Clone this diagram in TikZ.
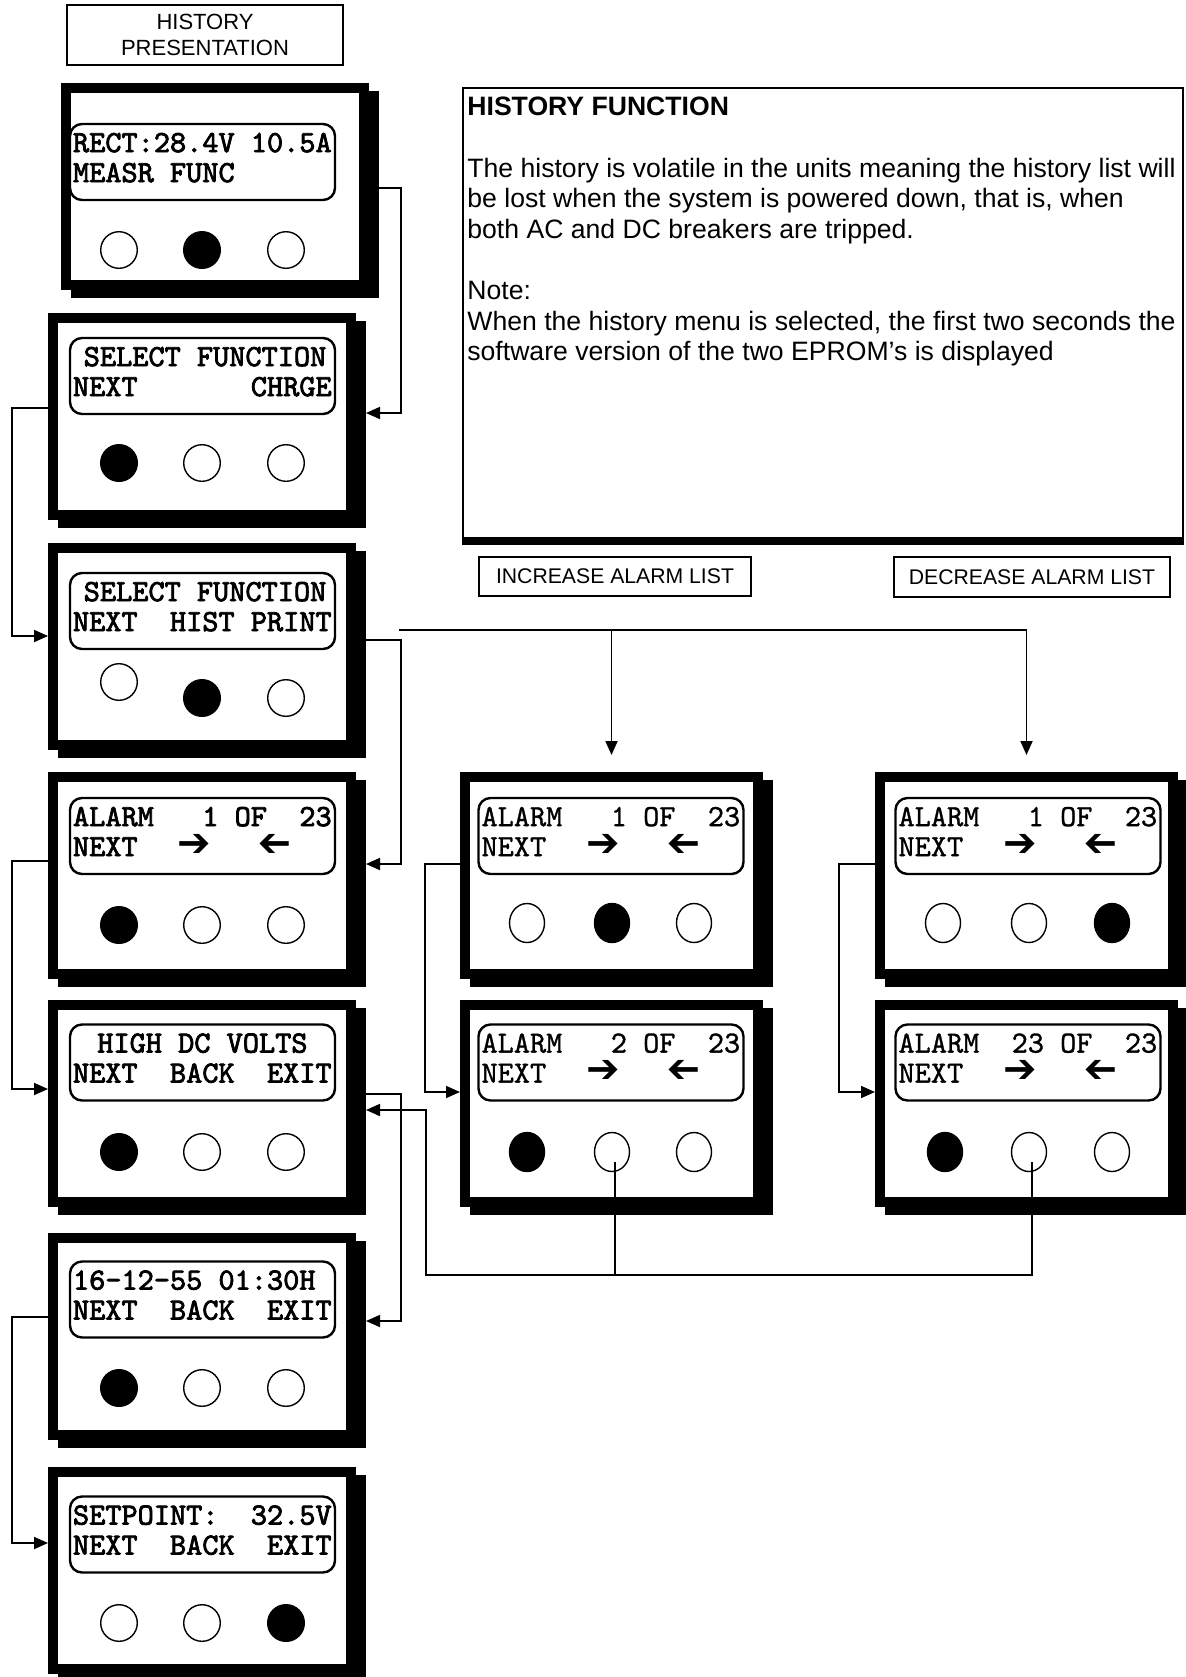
\documentclass[tikz,border=0pt]{standalone}
\usepackage{fontspec}
\setmainfont{Liberation Sans}
\newfontfamily\arrowfont{DejaVu Sans}
\newfontfamily\lcdbold{lmmono10-regular.otf}[FakeBold=2.5]
\newfontfamily\lcdmedium{lmmono10-regular.otf}[FakeBold=1]
\usetikzlibrary{arrows.meta,shapes.geometric}
\newcommand\lcdfont{\lcdbold\fontsize{15.4}{15}\selectfont
  \fontdimen2\font=0.525em\fontdimen3\font=0pt\fontdimen4\font=0pt}
\newcommand\lcdthinfont{\lcdmedium\fontsize{15.4}{15}\selectfont
  \fontdimen2\font=0.525em\fontdimen3\font=0pt\fontdimen4\font=0pt}
\newcommand\toR{\makebox[0.525em]{\arrowfont\fontsize{20}{20}\selectfont ➔}}
\newcommand\toL{\makebox[0.525em]{\reflectbox{\arrowfont\fontsize{20}{20}\selectfont ➔}}}

\begin{document}
\begin{tikzpicture}[x=0.5pt, y=-0.5pt,
  panel/.style={draw, line width=5pt, fill=white, minimum width=149pt,
    minimum height=98.5pt, inner sep=0pt,
    preaction={draw=black, fill=black, line width=5pt,
      transform canvas={shift={(5pt,-4pt)}}}},
  slim/.style={minimum width=146.5pt},
  lcd/.style={draw, line width=1.2pt, rounded corners=6pt, fill=white,
    text width=129.5pt, minimum height=38pt, inner sep=1.5pt, align=flush left,
    text depth=19.5pt, font=\lcdfont},
  lcdthin/.style={lcd, font=\lcdthinfont},
  btn/.style={circle, draw, line width=0.7pt, fill=white,
    minimum size=18.3pt, inner sep=0pt},
  oval/.style={ellipse, draw, line width=0.7pt, fill=white,
    minimum width=17.5pt, minimum height=19.5pt, inner sep=0pt},
  pushed/.style={fill=black},
  tag/.style={draw, line width=1pt, align=center, inner sep=0pt,
    font=\fontsize{10.6}{13}\selectfont},
  link/.style={line width=0.9pt, -{Triangle[length=7pt,width=6pt]}},
  inR/.style={shorten >=5pt}]
\useasboundingbox (0,0) rectangle (1186,1677);

\node[tag, minimum width=138pt, minimum height=30pt,
  font=\fontsize{11}{13}\selectfont] (title) at (205,35) {HISTORY\\PRESENTATION};

\node[panel] (p1) at (215,186.5) {};
\node[panel] (p2) at (202,416.5) {};
\node[panel] (p3) at (202,646.5) {};
\node[panel] (p4) at (202,875.5) {};
\node[panel] (p5) at (202,1103.5) {};
\node[panel] (p6) at (202,1336.5) {};
\node[panel] (p7) at (202,1570.5) {};
\node[panel, slim] (m1) at (611.5,875.5) {};
\node[panel, slim] (m2) at (611.5,1103.5) {};
\node[panel, slim] (r1) at (1026.5,875.5) {};
\node[panel, slim] (r2) at (1026.5,1103.5) {};

\node[lcd] (l1) at (202.5,162) {RECT:28.4V~10.5A\\MEASR~FUNC};
\node[lcd] (l2) at (202.5,376) {\hspace*{0.35em}SELECT~FUNCTION\\NEXT~~~~~~~CHRGE};
\node[lcd] (l3) at (202.5,611) {\hspace*{0.35em}SELECT~FUNCTION\\NEXT~~HIST~PRINT};
\node[lcd] (l4) at (202.5,836) {ALARM~~~1~OF~~23\\NEXT~~~\toR~~~~\toL};
\node[lcd] (l5) at (202.5,1062.5) {\hspace*{0.79em}HIGH~DC~VOLTS\\NEXT~~BACK~~EXIT};
\node[lcd] (l6) at (202.5,1299.5) {16-12-55~01:30H\\NEXT~~BACK~~EXIT};
\node[lcd] (l7) at (202.5,1534.5) {SETPOINT:~~32.5V\\NEXT~~BACK~~EXIT};
\node[lcdthin] (lm1) at (611,836) {ALARM~~~1~OF~~23\\NEXT~~~\toR~~~~\toL};
\node[lcdthin] (lm2) at (611,1062.5) {ALARM~~~2~OF~~23\\NEXT~~~\toR~~~~\toL};
\node[lcdthin] (lr1) at (1028,836) {ALARM~~~1~OF~~23\\NEXT~~~\toR~~~~\toL};
\node[lcdthin] (lr2) at (1028,1062.5) {ALARM~~23~OF~~23\\NEXT~~~\toR~~~~\toL};

\node[btn] (p1b1) at (119,250) {};
\node[btn, pushed] (p1b2) at (202,250) {};
\node[btn] (p1b3) at (286,250) {};
\node[btn, pushed] (p2b1) at (119,463) {};
\node[btn] (p2b2) at (202,463) {};
\node[btn] (p2b3) at (286,463) {};
\node[btn] (p3b1) at (119,682) {};
\node[btn, pushed] (p3b2) at (202,698) {};
\node[btn] (p3b3) at (286,698) {};
\node[btn, pushed] (p4b1) at (119,925) {};
\node[btn] (p4b2) at (202,925) {};
\node[btn] (p4b3) at (286,925) {};
\node[btn, pushed] (p5b1) at (119,1152) {};
\node[btn] (p5b2) at (202,1152) {};
\node[btn] (p5b3) at (286,1152) {};
\node[btn, pushed] (p6b1) at (119,1388) {};
\node[btn] (p6b2) at (202,1388) {};
\node[btn] (p6b3) at (286,1388) {};
\node[btn] (p7b1) at (119,1623) {};
\node[btn] (p7b2) at (202,1623) {};
\node[btn, pushed] (p7b3) at (286,1623) {};
\node[oval] (m1b1) at (527,923) {};
\node[oval, pushed] (m1b2) at (612,923) {};
\node[oval] (m1b3) at (694,923) {};
\node[oval, pushed] (m2b1) at (527,1152) {};
\node[oval] (m2b2) at (612,1152) {};
\node[oval] (m2b3) at (694,1152) {};
\node[oval] (r1b1) at (943,923) {};
\node[oval] (r1b2) at (1029,923) {};
\node[oval, pushed] (r1b3) at (1112,923) {};
\node[oval, pushed] (r2b1) at (945,1152) {};
\node[oval] (r2b2) at (1029,1152) {};
\node[oval] (r2b3) at (1112,1152) {};

\node[draw, line width=1pt, minimum width=360pt, minimum height=225pt, inner sep=0pt] (note) at (823,313) {};
\fill ([yshift=1pt]note.south west) rectangle ([yshift=-3pt]note.south east);
\node[anchor=north west, align=left, inner sep=0pt, font=\fontsize{13.3}{15.3}\selectfont] (notetxt) at (467,97)
  {{\bfseries HISTORY FUNCTION}\\[15.3pt]
   The history is volatile in the units meaning the history list will\\
   be lost when the system is powered down, that is, when\\
   both AC and DC breakers are tripped.\\[15.3pt]
   Note:\\
   When the history menu is selected, the first two seconds the\\
   software version of the two EPROM’s is displayed};

\node[tag, minimum width=136pt, minimum height=19.5pt] (inc) at (615,576.5) {INCREASE ALARM LIST};
\node[tag, minimum width=138pt, minimum height=20pt] (dec) at (1032,577) {DECREASE ALARM LIST};

\draw[link, inR] (p1.east |- 0,188) -| (401,413) -- (p2.east |- 0,413);
\draw[link] (p2.west |- 0,408) -- (12,408) |- (p3.west |- 0,636);
\draw[link, inR] (p3.east |- 0,640) -| (401,864) -- (p4.east |- 0,864);
\draw[link] (p4.west |- 0,861) -- (12,861) |- (p5.west |- 0,1089);
\draw[link, inR] (p5.east |- 0,1094) -| (401,1321) -- (p6.east |- 0,1321);
\draw[link] (p6.west |- 0,1317) -- (12,1317) |- (p7.west |- 0,1543);

\coordinate (fork) at (399,630);
\draw[link, shorten >=8.5pt] (fork) -| (m1.north);
\draw[link, shorten >=8.5pt] (fork) -| (r1.north);

\draw[link] (m1.west |- 0,864) -- (425,864) |- (m2.west |- 0,1092);
\draw[link] (r1.west |- 0,864) -- (839,864) |- (r2.west |- 0,1092);

\draw[link, -] ([xshift=1.5pt,yshift=-5pt]m2b2.center) -- ([xshift=1.5pt]m2b2.center |- 0,1275);
\draw[link, inR] ([xshift=1.5pt,yshift=-5pt]r2b2.center) |- (426,1275) |- (p5.east |- 0,1110);
\end{tikzpicture}
\end{document}
